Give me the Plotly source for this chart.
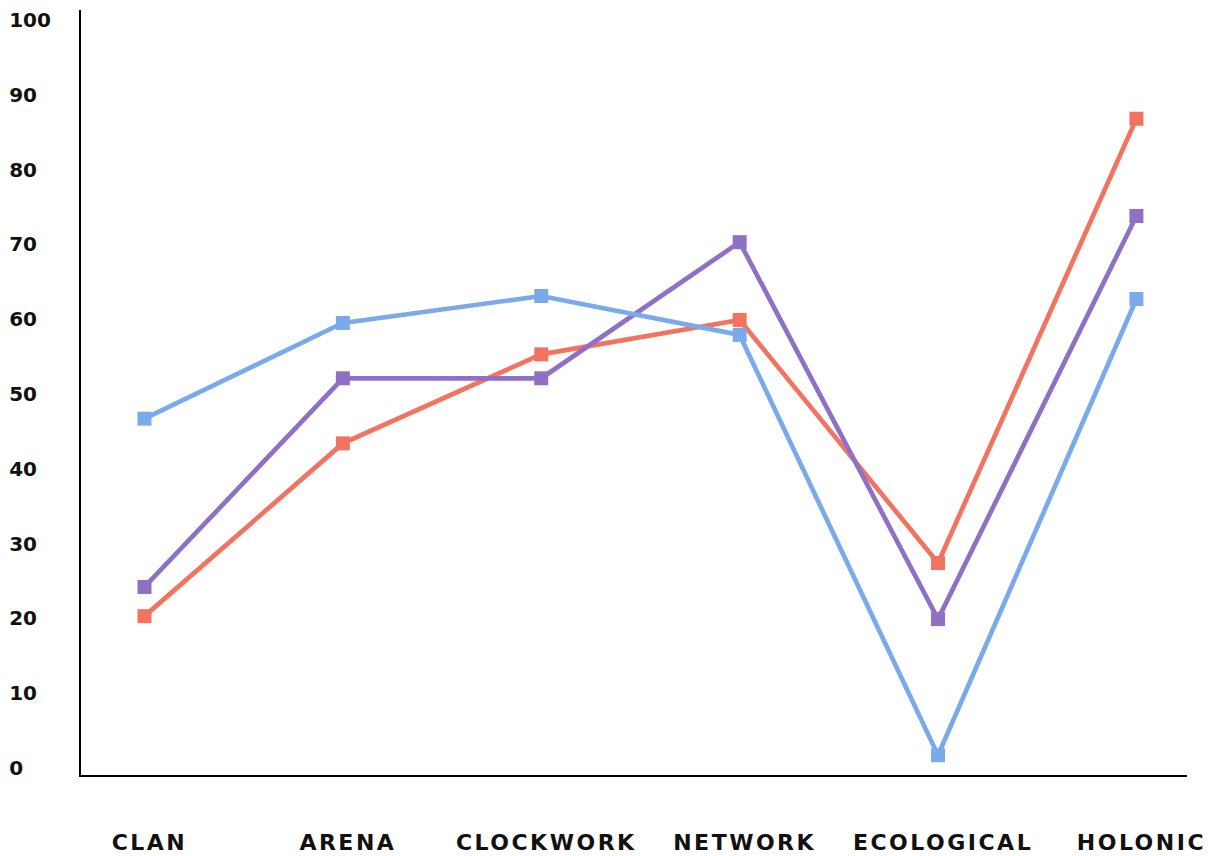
import plotly.graph_objects as go

categories = ["CLAN", "ARENA", "CLOCKWORK", "NETWORK", "ECOLOGICAL", "HOLONIC"]
blue_values = [46.7, 59.5, 63.1, 57.9, 1.7, 62.7]
purple_values = [24.2, 52.1, 52.1, 70.3, 19.9, 73.8]
orange_values = [20.3, 43.4, 55.3, 59.9, 27.4, 86.8]
y_ticks = [0, 10, 20, 30, 40, 50, 60, 70, 80, 90, 100]

series = [
    ("Orange", orange_values, "#F27360"),
    ("Purple", purple_values, "#9070C4"),
    ("Blue", blue_values, "#7BAAEB"),
]

W, H = 1217, 856
ML, MR, MT, MB = 0, 30, 10, 81
plot_w = W - ML - MR
axis_px = 81
x_start = (axis_px - ML) / plot_w
y_range = [-0.94, 101.34]

fig = go.Figure()
for name, vals, color in series:
    fig.add_trace(go.Scatter(
        x=list(range(len(categories))), y=vals, name=name, mode="lines+markers",
        line=dict(color=color, width=4.7),
        marker=dict(symbol="square", size=14, color=color),
        showlegend=False, hoverinfo="skip",
    ))

# hidden carrier trace for the value-label axis at the far left
fig.add_trace(go.Scatter(x=[0], y=[50], xaxis="x2", yaxis="y2", mode="markers",
                         marker=dict(opacity=0), showlegend=False, hoverinfo="skip"))

fig.update_layout(
    width=W, height=H,
    margin=dict(l=ML, r=MR, t=MT, b=MB),
    paper_bgcolor="white", plot_bgcolor="white",
    xaxis=dict(
        domain=[x_start, 1],
        range=[-0.32, 5.255],
        tickmode="array",
        tickvals=list(range(len(categories))),
        ticktext=[f'<span style="letter-spacing:2.5px">{c}</span>' for c in categories],
        showgrid=False, zeroline=False,
        showline=True, linecolor="black", linewidth=2,
        ticks="", ticklabelstandoff=47, ticklabelshift=5,
        tickfont=dict(family="DejaVu Sans", size=22, color="#111111", weight="bold"),
    ),
    yaxis=dict(
        range=y_range,
        showgrid=False, zeroline=False,
        showline=True, linecolor="black", linewidth=2,
        showticklabels=False, ticks="",
    ),
    xaxis2=dict(domain=[0, 0.001], anchor="y2", range=[0, 1], visible=False),
    yaxis2=dict(
        anchor="x2", side="right",
        range=y_range,
        tickmode="array", tickvals=y_ticks, ticktext=[str(v) for v in y_ticks],
        showgrid=False, zeroline=False, showline=False, ticks="",
        ticklabelstandoff=7,
        tickfont=dict(family="DejaVu Sans", size=20, color="#111111", weight="bold"),
    ),
)

fig.write_html("out.html")
